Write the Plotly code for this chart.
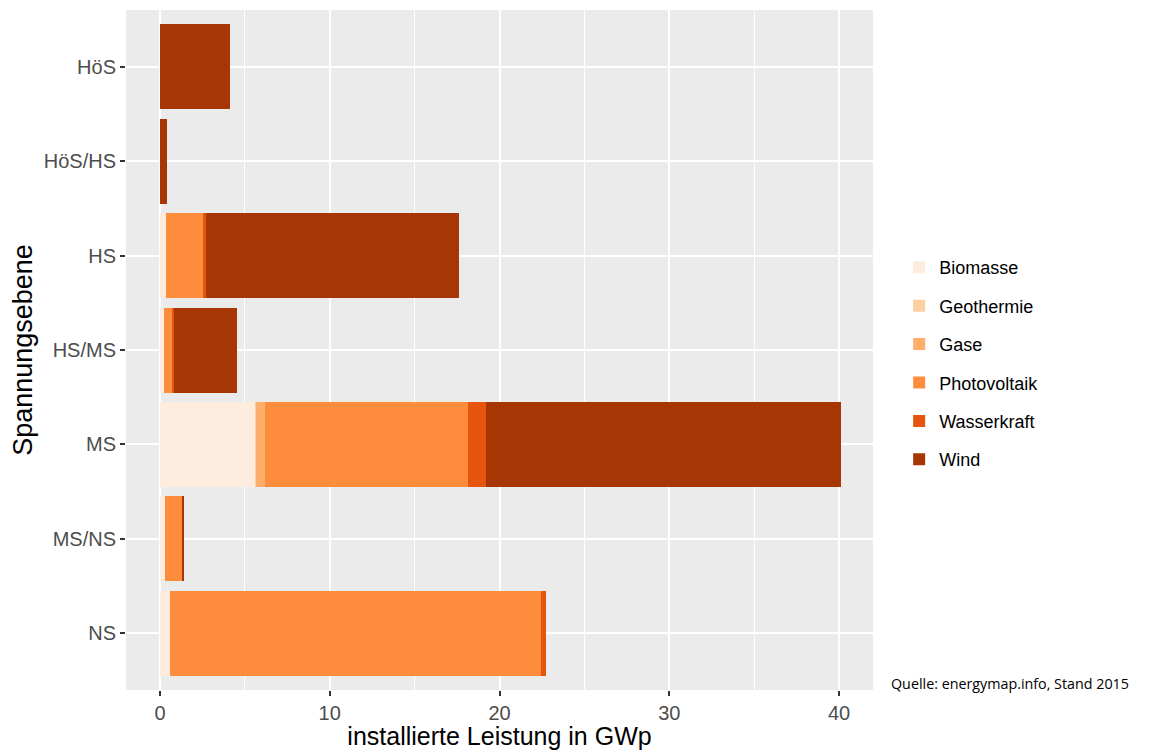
import plotly.graph_objects as go

categories = ["NS", "MS/NS", "MS", "HS/MS", "HS", "HöS/HS", "HöS"]
sources = ["Biomasse", "Geothermie", "Gase", "Photovoltaik", "Wasserkraft", "Wind"]

biomasse = [0.6, 0.3, 5.63, 0.25, 0.35, 0.0, 0.0]
geothermie = [0.0, 0.0, 0.03, 0.0, 0.0, 0.0, 0.0]
gase = [0.0, 0.0, 0.5, 0.0, 0.0, 0.0, 0.0]
photovoltaik = [21.83, 1.0, 11.98, 0.5, 2.2, 0.0, 0.0]
wasserkraft = [0.3, 0.05, 1.05, 0.1, 0.15, 0.0, 0.0]
wind = [0.0, 0.08, 20.9, 3.7, 14.9, 0.4, 4.15]

colors = ["#FEEDDE", "#FDD0A2", "#FDAE6B", "#FD8D3C", "#E6550D", "#A63603"]
series = [biomasse, geothermie, gase, photovoltaik, wasserkraft, wind]

x_ticks = [0, 10, 20, 30, 40]

fig = go.Figure()
for name, vals, col in zip(sources, series, colors):
    fig.add_trace(go.Bar(
        y=categories, x=vals, name=name, orientation="h",
        marker=dict(color=col, line=dict(width=0)),
        width=0.9, legendgroup=name,
    ))

fig.update_layout(
    barmode="stack",
    width=1151, height=742,
    margin=dict(l=118, r=286, t=2, b=60),
    paper_bgcolor="white",
    plot_bgcolor="#EBEBEB",
    font=dict(family="Liberation Sans, Arial, sans-serif", color="#4D4D4D"),
    showlegend=True,
    legend=dict(
        x=1.035, xanchor="left", y=0.48, yanchor="middle",
        font=dict(size=18, color="black"),
        traceorder="grouped", tracegroupgap=12,
        bgcolor="rgba(0,0,0,0)",
    ),
    xaxis=dict(
        range=[-2, 42], tickvals=x_ticks, ticktext=[str(v) for v in x_ticks],
        showgrid=True, gridcolor="white", gridwidth=2,
        minor=dict(dtick=5, tick0=0, showgrid=True, gridcolor="white", gridwidth=1),
        zeroline=False, showline=False,
        ticks="outside", ticklen=5, tickwidth=2, tickcolor="#333333",
        tickfont=dict(size=20, color="#4D4D4D"),
        title=dict(text="installierte Leistung in GWp", font=dict(size=25, color="black"), standoff=6),
    ),
    yaxis=dict(
        type="category", categoryorder="array", categoryarray=categories,
        range=[-0.6, 6.6],
        showgrid=True, gridcolor="white", gridwidth=2,
        zeroline=False, showline=False,
        ticks="outside", ticklen=5, tickwidth=2, tickcolor="#333333",
        tickfont=dict(size=20, color="#4D4D4D"),
        title=dict(text="Spannungsebene", font=dict(size=27, color="black"), standoff=8),
    ),
    annotations=[dict(
        text="Quelle: energymap.info, Stand 2015",
        xref="paper", yref="paper", x=1.022, y=0.009,
        xanchor="left", yanchor="middle", showarrow=False,
        font=dict(family="Open Sans", size=14.3, color="black"),
    )],
)

fig.write_html("out.html")
